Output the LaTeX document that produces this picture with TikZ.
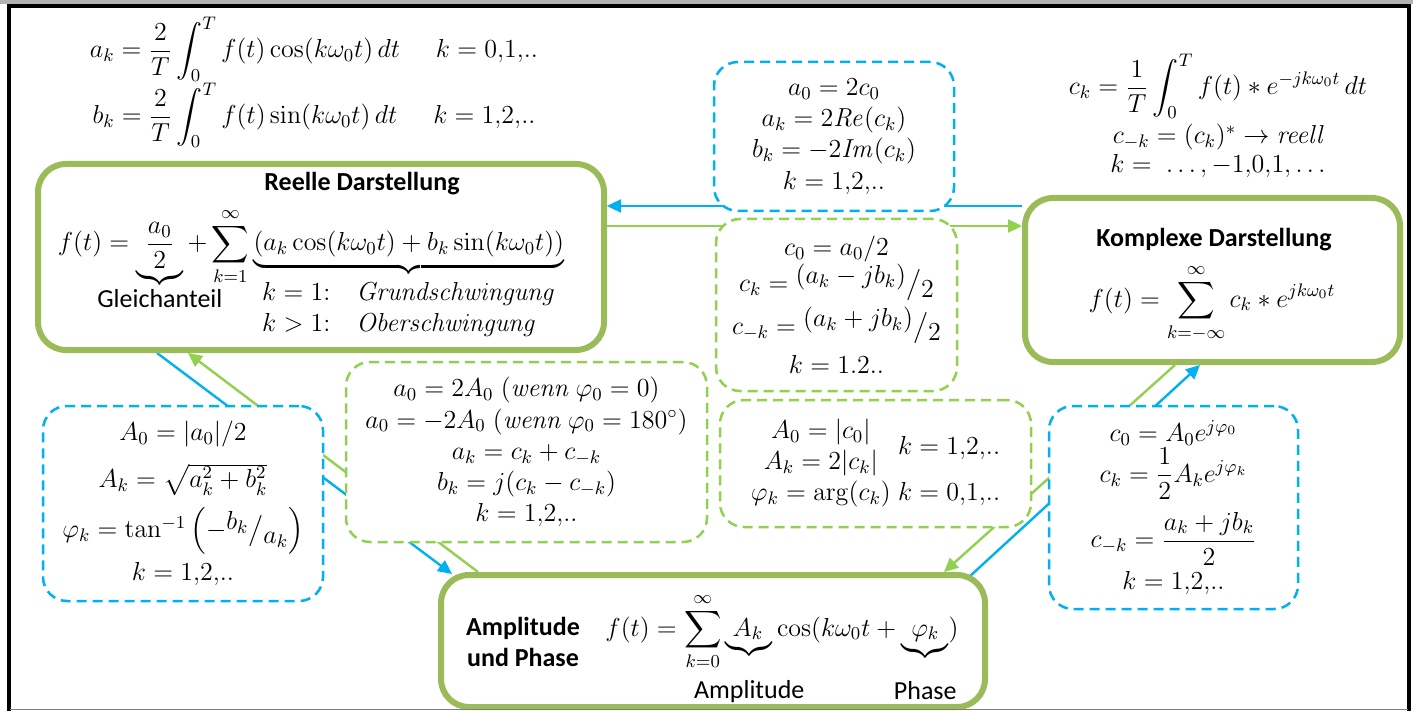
\RequirePackage{fix-cm}
\documentclass[tikz,border=0pt]{standalone}
\usepackage[no-math]{fontspec}
\setmainfont{Carlito}
\usepackage{amsmath,amssymb,mathtools}
\usetikzlibrary{arrows.meta, positioning, calc, backgrounds}
\definecolor{boxgreen}{HTML}{9BBB59}
\definecolor{convgreen}{HTML}{92D050}
\definecolor{convblue}{HTML}{00B0F0}
\newcommand{\bevfrac}[2]{\raisebox{4pt}{$#1$}\big/\raisebox{-3pt}{$#2$}}

\begin{document}
\begin{tikzpicture}[
    x=0.5pt, y=-0.5pt,
    font=\fontsize{13}{15.6}\selectfont,
    repr/.style={draw=boxgreen, line width=3pt, rounded corners=14pt, fill=white, inner sep=0pt},
    conv/.style={line width=1.25pt, dash pattern=on 5pt off 3pt, rounded corners=12pt, fill=white, inner sep=0pt, align=center},
    bconv/.style={conv, draw=convblue},
    gconv/.style={conv, draw=convgreen},
    barrow/.style={color=convblue, line width=1.2pt, -{Triangle[length=7pt, width=6.5pt]}},
    garrow/.style={color=convgreen, line width=1.2pt, -{Triangle[length=7pt, width=6.5pt]}},
    eq/.style={align=center, inner sep=0pt},
    head/.style={font=\fontsize{13}{15.6}\selectfont\bfseries, align=center, inner sep=0pt},
]
    \useasboundingbox (0,0) rectangle (1413,711);

    % the three representations
    \node[repr, minimum width=283pt, minimum height=93pt] (reell) at (321,257) {};
    \node[repr, minimum width=187.5pt, minimum height=82pt] (komplex) at (1212.5,280) {};
    \node[repr, minimum width=272pt, minimum height=66pt] (ampl) at (713,641) {};

    \node[head] (reelltitle) at (362,184) {Reelle Darstellung};
    \node[eq, anchor=base] (reelleq) at (311,251) {$\displaystyle f(t)=\underbrace{\frac{a_0}{2}}_{\mathclap{\textstyle\text{Gleichanteil}}}+\sum_{k=1}^{\infty}\underbrace{(a_k\cos(k\omega_0t)+b_k\sin(k\omega_0t))}_{\begin{array}{@{}l@{\quad}l@{}}k=1{:} & \mathit{Grundschwingung}\\ k>1{:} & \mathit{Oberschwingung}\end{array}}$};

    \node[head] (komplextitle) at (1214,240) {Komplexe Darstellung};
    \node[eq, anchor=base] (komplexeq) at (1212,307) {$\displaystyle f(t)=\sum_{k=-\infty}^{\infty}c_k*e^{jk\omega_0t}$};

    \node[head] (ampltitle) at (523,642) {Amplitude\\und Phase};
    \node[eq, anchor=base] (ampleq) at (782,636) {$\displaystyle f(t)=\sum_{k=0}^{\infty}\underbrace{\,A_k\;}_{\mathclap{\textstyle\rule{0pt}{19pt}\text{Amplitude}}}\cos(k\omega_0t+\underbrace{\;\varphi_k\;}_{\mathclap{\textstyle\rule{0pt}{19pt}\text{Phase}}})$};

    % coefficients
    \node[eq, anchor=base] (acoef) at (314,58) {$\displaystyle a_k=\frac{2}{T}\int_0^T f(t)\cos(k\omega_0t)\,dt\hspace{18pt}k=0{,}1{,}..$};
    \node[eq, anchor=base] (bcoef) at (314,124) {$\displaystyle b_k=\frac{2}{T}\int_0^T f(t)\sin(k\omega_0t)\,dt\hspace{18pt}k=1{,}2{,}..$};
    \node[eq, anchor=base] (ccoef) at (1218,95) {$\displaystyle c_k=\frac{1}{T}\int_0^T f(t)*e^{-jk\omega_0t}\,dt$};
    \node[eq, anchor=base] (cmcoef) at (1219,144) {$c_{-k}=(c_k)^*\rightarrow\mathit{reell}$};
    \node[eq, anchor=base] (kall) at (1218,173) {$k=\;\ldots,-1{,}0{,}1,\ldots$};

    % conversions
    \node[bconv, minimum width=120pt, minimum height=74.5pt] (c2a) at (834,136.5)
        {$a_0=2c_0$\\ $a_k=2\mathit{Re}(c_k)$\\ $b_k=-2\mathit{Im}(c_k)$\\ $k=1{,}2{,}..$};
    \node[gconv, minimum width=120.5pt, minimum height=86pt] (a2c) at (836.5,305)
        {$c_0=a_0/2$\\ $c_k=\bevfrac{(a_k-jb_k)}{2}$\\[2pt] $c_{-k}=\bevfrac{(a_k+jb_k)}{2}$\\[4pt] $k=1.2..$};
    \node[bconv, minimum width=140pt, minimum height=97.5pt] (a2A) at (183,503.5)
        {$A_0=|a_0|/2$\\[8pt] $A_k=\sqrt{a_k^2+b_k^2}$\\[5pt] $\varphi_k=\tan^{-1}\left(-\bevfrac{b_k}{a_k}\right)$\\[3pt] $k=1{,}2{,}..$};
    \node[gconv, minimum width=180.5pt, minimum height=90pt] (A2a) at (526.5,452)
        {$a_0=2A_0\;(\mathit{wenn}\ \varphi_0=0)$\\ $a_0=-2A_0\;(\mathit{wenn}\ \varphi_0=180^\circ)$\\ $a_k=c_k+c_{-k}$\\ $b_k=j(c_k-c_{-k})$\\ $k=1{,}2{,}..$};
    \node[gconv, minimum width=155.5pt, minimum height=63.5pt] (c2A) at (875.5,463.5)
        {$\begin{array}{@{}c@{\;}l@{}}A_0=|c_0| & \smash{\raisebox{-8pt}{$k=1{,}2{,}..$}}\\ A_k=2|c_k| & \\ \varphi_k=\arg(c_k) & k=0{,}1{,}..\end{array}$};
    \node[bconv, minimum width=124.5pt, minimum height=101.5pt] (A2c) at (1173.5,507.5)
        {$c_0=A_0e^{j\varphi_0}$\\ $c_k=\dfrac{1}{2}A_ke^{j\varphi_k}$\\[5pt] $c_{-k}=\dfrac{a_k+jb_k}{2}$\\[2pt] $k=1{,}2{,}..$};

    \begin{scope}[on background layer]
        \fill[white] (0,0) rectangle (1413,711);
        \draw[barrow] (komplex.west |- 0,206) -- (reell.east |- 0,206);
        \draw[garrow] (reell.east |- 0,226) -- (komplex.west |- 0,226);
        \draw[barrow] ($(reell.south west)+(122,0)$) -- ($(ampl.north west)+(14,2)$);
        \draw[garrow] ($(ampl.north west)+(40,0)$) -- ($(reell.south west)+(153,0)$);
        \draw[garrow] ($(komplex.south west)+(153,0)$) -- ($(ampl.north east)+(-44,0)$);
        \draw[barrow] ($(ampl.north east)+(-19,5)$) -- ($(komplex.south west)+(178,0)$);
    \end{scope}

    % frame
    \fill[gray!60] (0,0) rectangle (1413,4);
    \draw[line width=2pt] (9,711) -- (9,6) -- (1409,6) -- (1409,711);
    \draw[gray, line width=0.75pt] (10,709.5) -- (1408,709.5);
\end{tikzpicture}
\end{document}
